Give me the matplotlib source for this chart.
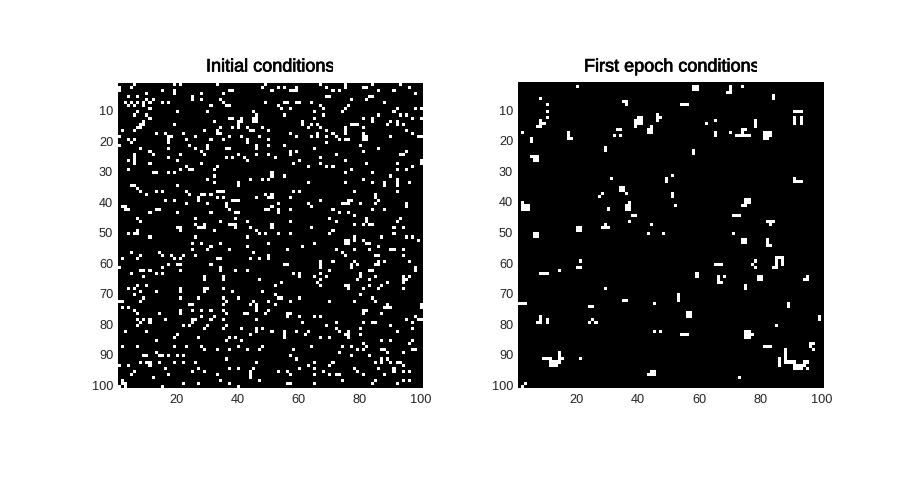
import matplotlib.pyplot as plt
import matplotlib.patheffects as pe
import numpy as np
from matplotlib.transforms import Bbox, ScaledTranslation

plt.rcParams['font.family'] = ['Liberation Sans', 'DejaVu Sans']

# (row, col) of the white cells
initial_nw = [(2,1),(3,1),(2,5),(1,6),(1,19),(1,21),(1,33),(2,48),(1,49),(3,15),(3,19),(4,19),(4,10),(3,37),(3,38),(4,35),
    (5,4),(5,7),(6,10),(6,12),(5,25),(6,25),(4,28),(6,28),(6,34),(7,3),(7,5),(7,9),(7,11),(7,15),(7,17),(7,35),(8,36),(8,37),(7,49),
    (8,4),(8,6),(7,7),(8,9),(8,31),(9,11),(10,20),(10,30),(10,7),(11,6),(11,10),(12,11),(10,45),(12,37),(12,38),(12,41),(13,41),(14,40),(13,40),
    (12,45),(12,46),(13,45),(13,46),(11,46),(13,32),(14,19),(13,9),(14,8),(14,9),(15,7),(15,8),(15,34),(15,38),(15,40),(15,43),(15,48),
    (16,2),(16,6),(16,29),(16,33),(16,44),(16,45),(17,13),(17,16),(18,18),(18,17),(17,22),(17,33),(17,34),(18,1),(19,4),(19,6),(19,23),(18,26),
    (19,31),(19,35),(18,37),(18,41),(19,43),(18,47),(19,17),(20,5),(20,17),(21,24),(21,30),(22,30),(20,43),(21,46),(22,46),(21,1),(22,8),(22,17),
    (22,26),(22,36),(22,37),(23,28),(23,11),(24,21),(24,29),(24,46),(24,6),(24,12),(26,4),(25,17),(26,20),(25,36),(25,38),(24,40),(25,42),(26,43),
    (25,6),(26,6),(27,6),(27,11),(28,23),(29,24),(29,21),(28,33),(29,32),(29,4),(30,12),(30,13),(30,17),(30,19),(29,25),(27,28),(32,30),(31,32),
    (33,32),(32,44),(32,48),(33,40),(34,20),(34,5),(34,6),(35,7),(36,8),(34,40),(36,13),(36,15),(37,10),(36,23),(37,24),(36,33),(36,34),(36,35),
    (37,28),(37,29),(38,27),(39,27),(37,31),(38,33),(38,35),(39,38),(39,39),(39,40),(38,46),(37,49),(39,16),(39,19),(40,23),(40,36),(41,36),(40,30),
    (41,2),(41,3),(42,3),(42,4),(42,13),(42,14),(43,11),(43,20),(42,37),(42,49),(43,39),(43,40),(43,31),(45,39),(45,7),(46,8),(45,26),(48,20),(48,21),
    (49,21),(47,26),(47,29),(48,29),(48,28),(46,34),(47,37),(47,38),(47,39),(46,43),(48,44),(49,46),(48,27),(49,32),(48,39),(50,4),(50,6),(49,7),(50,7),
    (51,11),(51,43),(50,47),(50,49),(51,26)]
initial_ne = [(3,51),(2,53),(2,55),(3,57),(2,59),(3,59),(3,58),(1,67),(2,69),(3,71),(3,73),(1,75),(2,75),(2,81),(2,82),(1,84),(3,86),(3,91),(1,93),(2,96),(4,98),
    (5,69),(5,70),(6,77),(5,83),(5,84),(6,82),(7,88),(7,55),(7,56),(8,53),(7,59),(7,60),(7,64),(8,67),(9,54),(9,57),(10,65),(9,68),(8,76),(9,75),(10,74),
    (9,92),(10,91),(9,98),(9,100),(11,93),(11,95),(11,68),(11,55),(12,65),(13,61),(14,61),(12,84),(13,84),(12,81),(11,86),(12,97),(12,100),(15,63),(14,64),
    (14,66),(15,67),(14,77),(14,78),(14,79),(15,75),(16,75),(17,75),(13,90),(13,92),(14,92),(14,94),(14,89),(15,81),(16,95),(16,69),(17,71),(16,50),(17,57),
    (18,59),(18,64),(17,66),(18,66),(18,69),(18,72),(19,73),(19,75),(19,76),(18,81),(19,81),(17,81),(18,82),(19,82),(18,90),(17,97),(18,99),(18,100),(19,50),
    (20,69),(21,55),(21,50),(22,65),(24,72),(21,80),(23,81),(22,86),(23,95),(24,93),(24,94),(23,57),(24,57),(23,59),(24,50),(25,52),(26,60),(27,58),(28,63),
    (25,67),(27,67),(28,69),(28,71),(26,75),(27,82),(27,92),(26,100),(27,100),(29,92),(29,95),(28,97),(29,77),(30,75),(30,84),(30,51),(31,51),(32,50),(31,55),
    (32,81),(33,84),(31,90),(33,63),(33,75),(33,88),(34,88),(32,92),(33,92),(34,92),(33,96),(36,60),(36,58),(38,57),(36,78),(36,92),(37,51),(38,51),(38,50),
    (37,85),(38,85),(39,86),(40,63),(41,64),(39,67),(40,74),(40,75),(40,76),(39,76),(39,77),(40,80),(40,85),(40,95),(40,53),(41,51),(42,50),(42,53),(42,57),
    (43,53),(42,71),(43,73),(45,70),(43,76),(44,78),(45,82),(46,82),(47,83),(46,92),(45,93),(42,84),(42,88),(41,95),(46,72),(47,51),(48,51),(46,57),(48,64),
    (50,70),(49,71),(47,78),(47,81),(47,84),(48,91),(48,94),(50,57),(50,53),(51,87),(50,91),(51,95),(51,97)]
initial_sw = [(53,25),(55,25),(53,28),(54,31),(55,30),(53,34),(55,37),(54,43),(56,5),(56,14),(57,15),(57,26),(56,45),(58,2),(57,8),(58,7),(57,18),(58,19),(58,21),
    (57,22),(58,33),(58,34),(58,44),(58,47),(60,17),(61,15),(60,20),(60,21),(60,31),(61,34),(62,34),(61,1),(62,8),(62,9),(62,11),(62,21),(62,39),(62,43),(63,5),
    (63,13),(63,15),(64,9),(64,29),(65,29),(64,35),(65,35),(65,47),(67,7),(67,10),(68,4),(68,6),(68,21),(68,29),(68,30),(69,29),(68,35),(69,8),(69,13),(69,21),
    (69,38),(69,48),(70,6),(71,21),(71,27),(71,9),(71,40),(72,8),(72,1),(72,2),(71,35),(72,36),(73,35),(72,45),(73,44),(73,46),(74,46),(73,24),(73,25),(74,2),
    (74,4),(75,6),(76,7),(75,21),(76,21),(75,25),(75,28),(75,31),(75,35),(76,14),(77,28),(77,32),(76,36),(76,42),(76,43),(75,46),(76,49),(75,50),(78,25),(78,26),
    (79,25),(80,24),(80,22),(78,16),(78,11),(79,11),(78,9),(79,8),(78,7),(80,7),(78,31),(78,35),(80,36),(78,46),(80,30),(81,29),(81,35),(81,41),(81,46),(81,48),
    (83,44),(82,46),(82,3),(82,10),(83,20),(84,19),(84,27),(85,36),(84,37),(84,39),(85,41),(85,13),(87,2),(87,7),(87,19),(87,23),(87,28),(88,29),(88,33),(88,37),
    (87,40),(88,43),(88,47),(87,48),(89,13),(90,9),(90,10),(90,14),(90,15),(90,17),(90,20),(90,22),(91,36),(92,8),(92,10),(92,11),(93,11),(92,14),(92,19),(92,22),
    (92,26),(92,46),(93,1),(93,4),(94,27),(94,16),(95,6),(96,5),(96,17),(95,25),(95,29),(94,37),(94,40),(94,45),(95,44),(96,44),(97,44),(96,33),(97,12),(98,34),
    (99,37),(98,47),(98,2),(99,22),(99,27),(99,3),(100,3),(99,2),(100,1),(100,15),(100,40)]
initial_se = [(53,50),(53,65),(54,61),(55,56),(55,72),(52,75),(52,76),(53,75),(53,76),(51,78),(52,78),(55,78),(52,81),(53,82),(53,83),(55,83),(54,86),
    (52,99),(55,90),(55,91),(55,94),(57,94),(56,74),(57,75),(57,85),(57,86),(57,50),(58,50),(60,55),(60,56),(59,67),(60,67),(61,67),(59,71),
    (59,78),(60,77),(61,77),(60,79),(59,86),(60,86),(60,85),(59,88),(59,96),(61,98),(62,98),(62,70),(62,83),(62,84),(63,58),(63,60),(64,60),(63,67),(64,65),(64,69),
    (63,80),(64,80),(65,79),(65,83),(64,85),(64,94),(65,94),(64,96),(65,95),(65,67),(67,67),(66,66),(66,54),(67,52),(67,75),(67,76),(68,76),(67,83),(67,87),(68,86),
    (66,89),(66,94),(68,94),(68,81),(70,80),(70,52),(71,53),(71,54),(71,60),(71,84),(72,85),(72,50),(72,57),(72,70),(72,78),(73,52),(74,88),(74,89),(73,89),(74,90),
    (73,100),(74,100),(75,50),(75,81),(75,82),(76,81),(76,87),(76,56),(76,57),(77,56),(77,60),(77,65),(77,67),(77,98),(78,99),(78,100),(78,95),(79,61),(80,69),(79,72),
    (79,81),(79,84),(79,85),(80,90),(79,97),(81,72),(82,73),(81,80),(82,51),(82,55),(83,55),(84,55),(82,59),(82,63),(83,62),(84,67),(84,70),(83,75),(82,76),(83,76),
    (84,76),(83,80),(82,92),(81,97),(87,64),(87,74),(87,77),(86,81),(87,82),(85,87),(85,90),(85,97),(86,96),(88,81),(88,79),(88,58),(88,87),(88,88),(88,97),(88,98),
    (89,89),(89,94),(90,57),(89,73),(90,77),(91,59),(90,83),(92,65),(93,63),(94,60),(92,71),(93,70),(92,85),(91,87),(92,87),(91,89),(92,90),(94,91),(95,91),(92,92),
    (92,93),(93,94),(94,78),(95,79),(94,86),(95,53),(95,56),(94,65),(96,65),(95,68),(96,70),(96,73),(96,72),(98,74),(95,94),(95,96),(96,57),(96,81),(96,88),(98,85),
    (99,92),(98,94),(98,96),(99,65),(99,56),(99,57),(99,84)]

epoch_top = [(2,20),(6,8),(8,10),(10,10),(12,10),(13,8),(14,8),(14,9),(15,7),(15,8),(17,2),(19,5),(20,5),(17,17),(18,17),(19,17),(19,18),(16,33),(16,34),(18,32),(18,34),
    (22,29),(23,29),(25,5),(25,6),(25,7),(26,6),(26,7),(7,35),(7,36),(8,36),(12,40),(12,41),(13,39),(13,40),(13,41),(14,39),(14,40),(14,41),(15,39),
    (15,44),(16,43),(16,44),(17,43),(17,44),(11,46),(12,46),(13,46),(12,47),(32,31),(35,34),(35,35),(36,34),(36,35),(37,36),(37,28),(38,27),(42,30),
    (40,37),(41,36),(41,37),(42,36),(42,37),(44,38),(44,39),(46,37),(47,44),(47,29),(48,28),(48,29),(48,30),(48,20),(48,21),(49,20),(49,21),(50,43),
    (50,6),(50,7),(51,6),(51,7),(40,2),(41,2),(41,3),(41,4),(42,2),(42,3),(42,4),
    (2,58),(2,59),(3,58),(3,59),(2,70),(3,70),(4,70),(4,69),(2,74),(5,84),(6,84),(8,54),(8,55),(8,56),(10,91),(10,92),(10,93),(12,91),(13,91),(14,91),
    (12,93),(13,93),(14,93),(13,78),(14,78),(15,78),(14,62),(13,65),(17,65),(18,65),(17,70),(16,74),(16,75),(17,74),(18,72),(18,73),(18,74),(18,75),(18,76),
    (17,81),(17,82),(17,83),(18,81),(18,82),(18,83),(19,81),(19,82),(23,58),(24,58),(31,51),(32,49),(33,49),(32,91),(33,91),(33,92),(33,93),(37,51),(38,51),
    (41,52),(39,75),(39,76),(40,75),(40,76),(41,74),(41,75),(44,71),(44,72),(44,73),(46,82),(46,83),(46,84),(47,83),(50,48),(50,71)]
epoch_bottom = [(52,74),(52,75),(53,74),(53,75),(52,82),(53,82),(54,82),(54,83),(60,65),(60,66),(60,67),(59,78),(60,77),(61,78),(61,84),(61,85),(58,85),(59,85),(60,85),(58,86),
    (58,87),(59,87),(60,87),(63,59),(64,59),(64,66),(65,66),(66,66),(66,67),(64,68),(64,79),(64,80),(65,79),(65,80),(64,95),(65,94),(65,95),(67,75),(68,75),
    (70,53),(71,53),(72,53),(73,89),(74,89),(76,56),(76,57),(77,56),(77,57),(77,99),(78,99),(80,85),(82,47),(83,54),(83,55),(83,56),(82,75),(82,76),(83,75),(83,76),
    (83,77),(84,75),(84,76),(87,81),(87,82),(87,83),(86,96),(86,97),(87,96),(88,97),(88,88),(89,88),(90,88),(91,88),(92,88),(92,89),(92,90),(92,91),
    (93,91),(93,93),(93,94),(92,94),(92,95),(94,91),(94,92),(94,93),(93,92),(91,86),(92,86),(93,86),(94,95),(97,73),
    (59,21),(61,20),(61,21),(62,14),(63,8),(63,9),(63,10),(68,29),(72,35),(72,36),(73,1),(73,2),(73,3),(73,45),(74,24),(74,25),(78,25),(79,24),(79,26),
    (77,8),(78,8),(79,8),(79,7),(78,10),(79,10),(82,45),(82,47),(91,21),(89,14),(90,14),(91,9),(91,10),(91,11),(91,14),(91,15),(92,11),(92,12),(92,13),(92,14),
    (93,11),(93,12),(93,13),(95,44),(95,45),(96,43),(96,44),(96,45),(99,3),(100,2)]

xtick_vals = [20, 40, 60, 80, 100]
ytick_vals = [10, 20, 30, 40, 50, 60, 70, 80, 90, 100]
titles = ['Initial conditions', 'First epoch conditions']


def make_grid(*cell_lists):
    grid = np.zeros((100, 100))
    for cells in cell_lists:
        for r, c in cells:
            grid[r - 1, c - 1] = 1
    return grid


W, H = 909, 489
fig = plt.figure(figsize=(W / 100, H / 100), dpi=100, facecolor='white')

panels = [
    (make_grid(initial_nw, initial_ne, initial_sw, initial_se), (118, 423, 84, 389), titles[0], 206, 333),
    (make_grid(epoch_top, epoch_bottom), (518, 824, 83, 389), titles[1], 584, 757),
]

for grid, (x0, x1, y0, y1), title, tx0, tx1 in panels:
    ax = fig.add_axes([x0 / W, 1 - y1 / H, (x1 - x0) / W, (y1 - y0) / H])
    ax.imshow(grid, cmap='gray', vmin=0, vmax=1, aspect='auto', interpolation='nearest',
              extent=(0.5, 100.5, 100.5, 0.5))
    ax.set_xticks(xtick_vals)
    ax.set_yticks(ytick_vals)
    ax.tick_params(length=0, labelsize=9.2, pad=3.5, labelcolor='#222222')
    # matlab puts the labels a touch off their ticks
    for lab in ax.get_yticklabels():
        lab.set_transform(lab.get_transform() + ScaledTranslation(0, 0.02, fig.dpi_scale_trans))
    for lab in ax.get_xticklabels():
        lab.set_transform(lab.get_transform() + ScaledTranslation(-0.01, 0, fig.dpi_scale_trans))
    for s in ax.spines.values():
        s.set_visible(False)
    # the title is cut off at the right in the original
    t = fig.text(tx0 / W, 1 - 68 / H, title, fontsize=13, ha='left', va='center', color='black',
                 path_effects=[pe.withStroke(linewidth=0.5, foreground='black')])
    t.set_clip_box(Bbox([[tx0 - 5, 0], [tx1, H]]))
    t.set_clip_on(True)

plt.savefig('out.png', dpi=100)
